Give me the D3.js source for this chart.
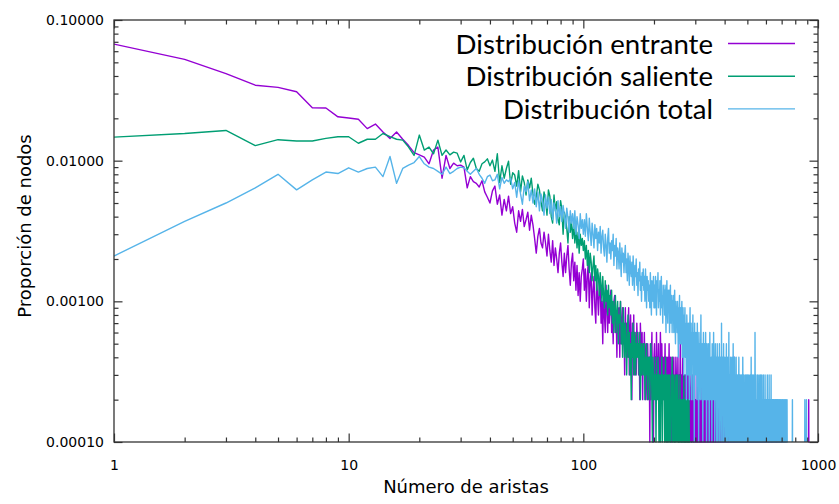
<!DOCTYPE html>
<html>
<head>
<meta charset="utf-8">
<script src="https://cdn.jsdelivr.net/npm/d3@7"></script>
<style>
body { margin: 0; background: #fff; }
svg text { font-family: "DejaVu Sans", sans-serif; fill: #000; }
</style>
</head>
<body>
<svg id="chart" width="839" height="504"></svg>
<script>
// number of nodes, a count of 1 gives a proportion of 0.0001
var totalNodos = 10000;

// node counts per degree, index 0 = degree 1 (0 = no node with that degree)
var entrante = [
  674,525,416,344,332,309,238,237,205,201,
  197,169,182,160,144,160,142,128,114,110,
  106,95,119,125,75,109,88,96,92,93,
  90,64,77,71,69,65,72,60,55,50,
  61,66,49,57,41,53,44,56,42,47,
  36,31,44,37,45,34,38,43,32,41,
  35,28,22,29,33,26,24,31,26,21,
  30,23,19,27,18,24,20,16,22,26,
  19,15,22,16,21,25,17,13,19,22,
  14,19,12,18,11,16,10,15,17,20,
  12,17,10,15,19,9,14,16,8,12,
  15,9,7,14,11,8,12,14,7,10,
  5,12,8,6,13,9,6,11,7,10,
  12,6,9,5,10,11,6,8,4,9,
  7,9,4,10,5,7,9,5,7,3,
  9,5,7,4,6,9,3,6,8,4,
  2,7,4,8,3,6,5,3,7,5,
  6,3,5,2,7,5,3,6,2,5,
  4,6,3,2,5,4,2,5,3,2,
  4,1,5,2,4,6,2,3,1,4,
  5,3,4,2,6,3,4,3,5,2,
  4,3,6,4,2,5,3,4,3,2,
  4,3,5,2,3,4,1,3,4,2,
  3,5,2,3,4,2,3,1,4,3,
  2,3,4,2,3,1,2,4,3,2,
  3,2,4,2,1,3,2,3,5,2,
  2,3,1,2,4,2,3,2,1,3,
  2,1,3,2,2,4,1,2,3,2,
  1,2,3,2,1,2,2,3,1,2,
  3,2,1,3,2,1,2,4,1,2,
  2,1,1,2,1,3,1,2,1,1, 2,1,1,1,2,1,3,1,1,2, 1,1,2,1,1,1,2,1,1,3, 1,2,1,1,1,2,1,1,2,1, 1,1,3,1,1,2,1,1,1,2,
  1,1,2,1,1,1,1,2,1,1, 1,2,1,1,1,1,3,1,1,1, 2,1,1,1,1,2,1,1,1,1, 1,2,1,1,1,1,1,2,1,1, 1,1,1,2,1,1,1,1,1,2,
  1,1,1,1,2,1,1,1,1,1, 2,1,1,1,1,1,1,2,1,1, 1,1,1,1,2,1,1,1,1,1, 1,2,1,1,1,1,1,1,4,1, 1,1,1,2,1,1,1,1,1,1,
  1,1,2,1,1,1,1,1,2,1, 1,1,1,1,1,2,1,1,1,1, 1,1,2,1,1,1,1,1,1,1, 2,1,1,1,1,1,1,1,2,1, 1,1,1,1,1,1,2,1,1,1,
  1,1,1,1,2,1,1,1,1,1, 1,1,1,1,1,1,2,1,1,1, 1,1,1,1,1,1,1,1,2,1, 1,1,1,1,1,1,1,1,1,1, 2,1,1,1,1,1,1,1,1,1,
  1,1,1,1,1,2,1,1,1,1, 1,1,1,1,1,1,1,1,1,1, 1,2,1,1,1,1,1,1,1,1, 1,1,1,1,1,1,1,2,1,1, 1,1,1,1,1,1,1,1,1,1,
  1,1,1,1,1,1,1,1,1,1, 0,1,1,1,1,1,1,1,2,1, 1,1,1,1,0,1,1,1,1,1, 1,1,1,1,1,1,0,1,1,1, 1,1,1,1,1,1,1,0,1,1,
  1,1,1,1,0,1,1,1,1,1, 1,0,1,1,1,1,1,1,1,0, 1,1,1,1,1,1,0,1,1,1, 1,1,1,0,1,1,1,1,1,1, 0,1,1,1,1,0,1,1,1,1,
  1,1,0,1,1,1,1,0,1,1, 1,0,1,1,1,0,1,1,0,1, 1,1,0,1,1,0,1,1,1,0, 1,0,1,1,0,1,0,1,1,0, 0,1,0,1,0,0,1,0,0,1,
  0,0,1,0,0,0,0,1,0,0, 0,0,0,1,0,0,0,0,0,0, 0,0,0,0,0,0,0,0,0,0, 0,0,0,0,0,0,0,0,0,0,
  0,0,0,0,0,0,0,0,0,0, 0,0,0,0,0,0,0,0,0,0, 0,0,0,0,0,0,0,0,0,0, 0,0,0,0,0,0,0,0,0,0,
  0,0,0,0,0,0,0,0,0,0, 0,0,0,0,0,0,0,0,0,0, 0,0,0,0,0,0,0,0,0,0, 0,0,0,0,0,0,0,0,0,0,
  0,0,0,0,0,0,0,0,0,0, 0,0,0,0,0,0,0,0,0,0, 0,0,0,0,0,0,0,0,0,0, 0,0,0,0,0,0,0,0,0,0,
  1,1,2,1,1
];

var saliente = [
  147,156,164,128,141,138,138,144,148,148,
  133,142,142,156,148,142,140,125,109,152,
  119,125,112,140,109,119,110,115,113,98,
  109,86,97,104,88,84,95,98,103,92,
  101,84,112,70,92,75,88,99,68,82,
  79,66,85,60,78,70,57,73,64,75,
  58,49,55,68,62,51,44,60,53,41,
  62,56,40,36,57,44,51,38,35,52,
  45,30,43,39,33,26,40,31,37,28,
  35,26,33,24,31,22,30,25,28,23,
  27,20,25,18,23,16,22,19,14,18,
  21,14,18,12,17,15,11,16,13,10,
  15,11,9,14,10,12,8,13,9,11,
  8,12,7,10,6,9,11,6,8,10,
  5,8,7,10,5,7,4,9,6,4,
  7,5,3,6,8,4,6,3,5,2,
  6,4,7,3,5,6,3,5,4,6,
  4,5,3,6,2,4,5,3,4,5,
  3,5,2,4,3,5,3,2,4,3,
  4,2,3,5,4,2,1,4,3,2,
  3,2,4,1,3,2,2,4,3,1, 3,2,1,3,2,4,1,3,2,2, 3,1,2,4,1,2,3,1,2,3, 1,2,3,1,2,1,3,2,4,1, 2,3,1,2,1,3,2,1,2,3,
  1,2,3,1,2,1,1,3,1,2, 1,2,1,1,2,1,1,3,1,1, 2,1,1,2,1,1,1,2,1,1, 1,2,1,1,1,0,1,1,1,1, 0,1,1,0,1,1,0,0,1,0
];

var total = [
  21,37,50,64,80,62,73,83,81,89,
  83,88,90,77,107,69,88,93,97,107,
  95,90,88,84,80,90,81,84,88,90,
  89,84,80,84,88,80,75,69,77,79,
  72,73,80,63,76,69,73,71,75,63,
  70,55,72,58,49,66,60,71,52,62,
  50,63,47,60,44,58,52,41,57,46,
  55,42,53,38,50,45,36,52,40,47,
  37,48,41,33,46,39,31,44,36,42,
  33,44,30,40,35,28,42,33,38,30,
  38,29,42,33,27,39,31,25,36,30,
  24,35,28,33,23,31,26,34,22,29,
  32,24,21,30,25,19,28,33,22,26,
  20,27,23,30,18,25,21,28,17,24,
  22,17,26,20,15,24,19,22,16,21,
  25,16,20,14,22,18,13,21,17,15,
  19,13,21,16,12,18,15,20,13,16,
  11,17,14,19,12,15,10,16,13,17,
  12,15,10,17,13,9,15,12,14,10,
  13,9,16,11,8,14,12,10,15,9,
  13,9,15,11,8,14,12,16,9,12,
  10,14,8,12,15,9,11,7,13,10,
  12,8,13,10,6,11,14,9,7,12,
  9,12,6,10,13,7,9,11,6,10,
  8,11,6,9,12,7,5,10,8,9,
  6,10,7,4,9,8,11,5,7,9,
  5,8,10,4,7,9,5,3,8,6,
  9,4,7,5,2,8,6,7,3,6,
  7,4,2,6,9,3,5,7,2,6,
  4,5,8,2,6,4,1,7,3,5,
  4,6,3,5,2,7,4,3,5,1, 6,4,3,5,2,4,8,3,4,2, 5,3,1,4,6,3,2,5,4,3, 2,6,3,4,1,5,3,2,4,3, 5,2,4,1,3,6,2,4,3,2,
  4,3,1,5,2,3,4,2,6,3, 2,4,1,3,5,2,3,4,2,1, 3,5,2,3,1,4,2,3,2,5, 1,3,2,4,2,3,1,7,2,3, 2,4,1,3,2,5,2,1,3,2,
  4,2,3,1,2,3,5,2,1,3, 2,4,2,1,3,2,6,2,3,1, 2,3,2,4,1,2,3,2,1,4, 2,3,1,2,5,2,1,3,2,2, 4,1,2,3,1,2,2,4,1,2,
  2,3,1,2,1,3,2,1,2,4, 1,2,1,3,2,1,2,1,3,2, 1,2,3,1,1,2,1,4,2,1, 2,1,3,1,2,1,2,2,1,3, 1,2,1,2,3,1,1,2,1,2,
  3,1,2,1,1,2,3,1,2,1, 2,1,1,3,2,1,2,1,4,1, 2,1,1,2,3,1,2,1,1,2, 1,3,1,2,1,1,2,1,6,2, 1,1,2,3,1,2,1,1,2,1,
  2,1,3,1,1,2,1,2,1,1, 3,1,2,1,1,2,1,1,3,1, 2,1,1,2,1,3,1,1,2,1, 1,2,1,1,3,1,2,1,1,2, 1,1,2,1,3,1,1,2,1,1,
  1,2,1,1,2,1,1,3,1,2, 1,1,2,1,1,1,2,1,3,1, 1,2,1,1,2,1,1,1,2,1, 3,1,1,2,1,1,2,1,1,1, 2,1,1,2,1,1,1,2,1,1,
  1,2,1,1,1,2,1,1,2,1, 1,1,2,1,1,1,2,1,1,1, 2,1,1,1,2,1,1,1,1,2, 1,1,2,1,1,1,1,2,1,1, 1,2,1,1,1,1,2,1,1,1,
  1,1,2,1,1,1,1,2,1,1, 1,1,1,2,1,1,1,1,1,2, 1,1,1,1,2,1,1,1,1,1, 2,1,1,1,1,1,1,2,1,1, 1,0,0,1,1,0,1,1,0,0,
  1,0,0,0,1,1,0,0,0,0, 0,1,0,0,0,0,1,1,0,0, 0,0,0,0,0,0,1,2,1,0, 0,0,0,0,0,0,0,0,0,0, 0,0,0,0,0,0,0,0,0,0,
  0,0,0,0,0,0,0,0,0,0, 0,0,0,0,0,0,0,0,0,0, 0,0,0,0,0,0,0,0,0,0, 0,0,0,0,0,0,0,0,0,0,
  0,0,0,0,0,0,0,0,0,0, 0,0,0,0,0,0,0,0,0,0, 0,0,0,0,0,0,0,0,0,0, 0,0,0,0,0,0,0,1,2,1,
  0,0,0,0,0,0,0,0,0,0, 0,1,2,1
];

var seriesNames = ['Distribución entrante', 'Distribución saliente', 'Distribución total'];
var seriesColors = ['#9400d3', '#009e73', '#56b4e9'];
var yTicks = [0.1, 0.01, 0.001, 0.0001];
var xTicks = [1, 10, 100, 1000];

var svg = d3.select('#chart');
var svgWidth = +svg.attr('width');
var svgHeight = +svg.attr('height');
var padding = {t: 20, r: 21, b: 62, l: 114};
var chartWidth = svgWidth - padding.l - padding.r;
var chartHeight = svgHeight - padding.t - padding.b;

var chartG = svg.append('g')
    .attr('transform', 'translate(' + [padding.l, padding.t] + ')');

var xScale = d3.scaleLog().domain([1, 1000]).range([0, chartWidth]);
var yScale = d3.scaleLog().domain([0.0001, 0.1]).range([chartHeight, 0]);

// minor ticks: every 2..9 of each decade
var xMinor = xScale.ticks().filter(function(d) { return xTicks.indexOf(d) < 0; });
var yMinor = yScale.ticks().filter(function(d) {
    return yTicks.every(function(t) { return Math.abs(t - d) / t > 1e-6; });
});

chartG.append('clipPath').attr('id', 'plotClip')
    .append('rect')
    .attr('x', 0).attr('y', -1)
    .attr('width', chartWidth).attr('height', chartHeight + 2);

var line = d3.line()
    .defined(function(d) { return d.c > 0; })
    .x(function(d) { return xScale(d.k); })
    .y(function(d) { return yScale(d.c / totalNodos); });

var allSeries = [entrante, saliente, total];
var linesG = chartG.append('g').attr('clip-path', 'url(#plotClip)');
allSeries.forEach(function(counts, i) {
    var pts = counts.map(function(c, j) { return {k: j + 1, c: c}; });
    linesG.append('path')
        .datum(pts)
        .attr('fill', 'none')
        .attr('stroke', seriesColors[i])
        .attr('stroke-width', 1.4)
        .attr('stroke-linejoin', 'round')
        .attr('d', line);
});

// axes (ticks point inwards, mirrored on top/right like gnuplot)
function styleAxis(g) {
    g.select('.domain').remove();
    g.selectAll('line').attr('stroke', '#333').attr('stroke-width', 1.2);
    g.selectAll('text')
        .attr('font-family', '"DejaVu Sans", sans-serif')
        .attr('font-size', 14)
        .attr('fill', '#000');
}

var major = -8.5, minor = -4.5;

chartG.append('g')
    .call(d3.axisLeft(yScale).tickValues(yTicks).tickFormat(d3.format('.5f'))
        .tickSize(major).tickPadding(10))
    .call(styleAxis);
chartG.append('g')
    .call(d3.axisLeft(yScale).tickValues(yMinor).tickFormat('').tickSize(minor))
    .call(styleAxis);
chartG.append('g')
    .attr('transform', 'translate(' + chartWidth + ',0)')
    .call(d3.axisRight(yScale).tickValues(yTicks).tickFormat('').tickSize(major))
    .call(styleAxis);
chartG.append('g')
    .attr('transform', 'translate(' + chartWidth + ',0)')
    .call(d3.axisRight(yScale).tickValues(yMinor).tickFormat('').tickSize(minor))
    .call(styleAxis);

chartG.append('g')
    .attr('transform', 'translate(0,' + chartHeight + ')')
    .call(d3.axisBottom(xScale).tickValues(xTicks).tickFormat(d3.format('d'))
        .tickSize(major).tickPadding(18))
    .call(styleAxis);
chartG.append('g')
    .attr('transform', 'translate(0,' + chartHeight + ')')
    .call(d3.axisBottom(xScale).tickValues(xMinor).tickFormat('').tickSize(minor))
    .call(styleAxis);
chartG.append('g')
    .call(d3.axisTop(xScale).tickValues(xTicks).tickFormat('').tickSize(major))
    .call(styleAxis);
chartG.append('g')
    .call(d3.axisTop(xScale).tickValues(xMinor).tickFormat('').tickSize(minor))
    .call(styleAxis);

chartG.append('rect')
    .attr('width', chartWidth)
    .attr('height', chartHeight)
    .attr('fill', 'none')
    .attr('stroke', '#333')
    .attr('stroke-width', 1.3);

// axis titles
svg.append('text')
    .attr('transform', 'translate(31,226) rotate(-90)')
    .attr('text-anchor', 'middle')
    .style('font-size', '18px')
    .text('Proporción de nodos');

svg.append('text')
    .attr('x', padding.l + chartWidth / 2)
    .attr('y', 493)
    .attr('text-anchor', 'middle')
    .style('font-size', '18px')
    .text('Número de aristas');

// legend, top right
var legendG = svg.append('g');
seriesNames.forEach(function(name, i) {
    var cy = 43.5 + i * 32.7;
    legendG.append('text')
        .attr('x', 713)
        .attr('y', cy + 10)
        .attr('text-anchor', 'end')
        .style('font-family', 'Lato, sans-serif')
        .style('font-size', '27.6px')
        .text(name);
    legendG.append('line')
        .attr('x1', 728).attr('x2', 795)
        .attr('y1', cy).attr('y2', cy)
        .attr('stroke', seriesColors[i])
        .attr('stroke-width', 1.4);
});
</script>
</body>
</html>
